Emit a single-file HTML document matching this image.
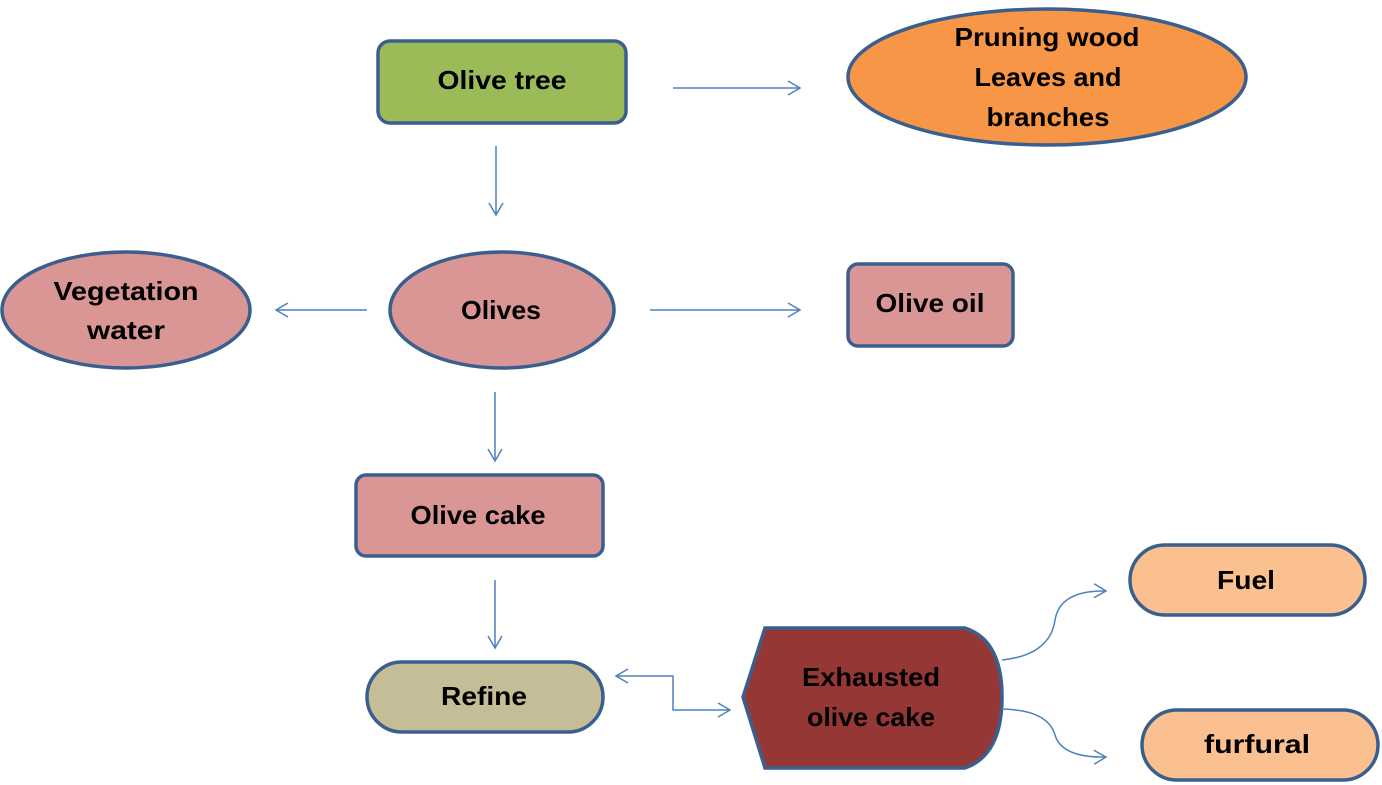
<!DOCTYPE html>
<html><head><meta charset="utf-8"><style>
html,body{margin:0;padding:0;background:#fff;}
svg{display:block;}
text{font-family:"Liberation Sans Narrow","Liberation Sans",sans-serif;font-weight:bold;font-size:26px;fill:#000;text-anchor:middle;}
</style></head><body>
<svg width="1382" height="785" viewBox="0 0 1382 785" xmlns="http://www.w3.org/2000/svg">
<defs>
<marker id="a" markerWidth="16" markerHeight="16" refX="14" refY="8" orient="auto" markerUnits="userSpaceOnUse">
<path d="M2,1 L14,8 L2,15" fill="none" stroke="#4F81BD" stroke-width="1.5"/>
</marker>
</defs>
<g stroke="#3A5F8F" stroke-width="3.5">
<rect x="378" y="41" width="248" height="82" rx="12" fill="#9BBB59"/>
<ellipse cx="1047" cy="77" rx="199" ry="68" fill="#F79646"/>
<ellipse cx="126" cy="310" rx="124" ry="58" fill="#D99694"/>
<ellipse cx="502" cy="310" rx="112" ry="58" fill="#D99694"/>
<rect x="848" y="264" width="165" height="82" rx="10" fill="#D99694"/>
<rect x="356" y="475" width="247" height="81" rx="10" fill="#D99694"/>
<rect x="367" y="662" width="236" height="70" rx="35" fill="#C4BD97"/>
<path d="M765,628 L965,628 Q1002,640 1002,697 Q1002,755 965,768 L765,768 L743,697 Z" fill="#953735"/>
<rect x="1130" y="545" width="235" height="70" rx="35" fill="#FAC090"/>
<rect x="1142" y="710" width="236" height="70" rx="35" fill="#FAC090"/>
</g>
<g stroke="#4F81BD" stroke-width="1.5" fill="none" marker-end="url(#a)">
<line x1="673" y1="88" x2="800" y2="88"/>
<line x1="496" y1="146" x2="496" y2="215"/>
<line x1="367" y1="310" x2="276" y2="310"/>
<line x1="650" y1="310" x2="800" y2="310"/>
<line x1="495" y1="392" x2="495" y2="461"/>
<line x1="495" y1="580" x2="495" y2="648"/>
<path d="M673,700 L673,676 L616,676" />
<path d="M673,700 L673,710 L730,710" />
<path d="M1002,660 Q1050,655 1055,620 Q1060,590 1106,591"/>
<path d="M1002,709 Q1048,710 1055,735 Q1062,758 1106,757"/>
</g>
<text x="502" y="89" textLength="129" lengthAdjust="spacingAndGlyphs">Olive tree</text>
<text x="1047" y="46" textLength="185" lengthAdjust="spacingAndGlyphs">Pruning wood</text>
<text x="1048" y="86" textLength="147" lengthAdjust="spacingAndGlyphs">Leaves and</text>
<text x="1048" y="126" textLength="123" lengthAdjust="spacingAndGlyphs">branches</text>
<text x="126" y="300" textLength="145" lengthAdjust="spacingAndGlyphs">Vegetation</text>
<text x="126" y="339" textLength="78" lengthAdjust="spacingAndGlyphs">water</text>
<text x="501" y="319" textLength="80" lengthAdjust="spacingAndGlyphs">Olives</text>
<text x="930" y="312" textLength="109" lengthAdjust="spacingAndGlyphs">Olive oil</text>
<text x="478" y="524" textLength="135" lengthAdjust="spacingAndGlyphs">Olive cake</text>
<text x="484" y="705" textLength="86" lengthAdjust="spacingAndGlyphs">Refine</text>
<text x="871" y="686" textLength="138" lengthAdjust="spacingAndGlyphs">Exhausted</text>
<text x="871" y="726" textLength="128" lengthAdjust="spacingAndGlyphs">olive cake</text>
<text x="1246" y="589" textLength="58" lengthAdjust="spacingAndGlyphs">Fuel</text>
<text x="1257" y="753" textLength="106" lengthAdjust="spacingAndGlyphs">furfural</text>
</svg>
</body></html>
